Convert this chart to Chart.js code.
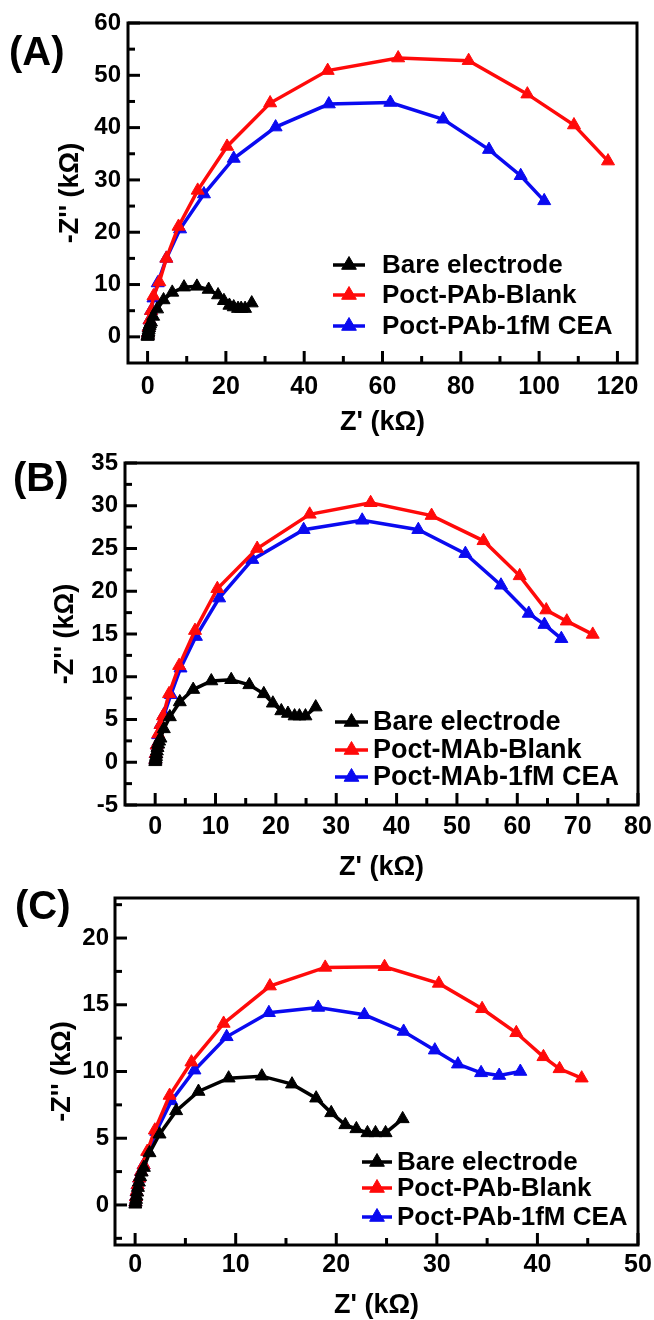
<!DOCTYPE html>
<html>
<head>
<meta charset="utf-8">
<script src="https://cdn.jsdelivr.net/npm/chart.js@4.4.1/dist/chart.umd.min.js"></script>
<style>
html,body{margin:0;padding:0;background:#fff;}
body{width:654px;height:1320px;position:relative;overflow:hidden;font-family:'Liberation Sans',Arial,sans-serif;}
.pane{position:absolute;left:0;width:654px;}
.pane canvas{display:block;}
.tag{position:absolute;font-weight:bold;font-size:40px;line-height:1;color:#000;z-index:5;}
</style>
</head>
<body>
<div class="pane" style="top:0px"><canvas id="cA" width="654" height="440"></canvas></div>
<div class="pane" style="top:440px"><canvas id="cB" width="654" height="450"></canvas></div>
<div class="pane" style="top:880px"><canvas id="cC" width="654" height="445"></canvas></div>
<div class="tag" style="left:9px;top:31px">(A)</div>
<div class="tag" style="left:13px;top:457px">(B)</div>
<div class="tag" style="left:15px;top:885px">(C)</div>
<script>
'use strict';

// Bare electrode spectrum (same electrode in every panel), kΩ
const bareZre=[0.02,0.05,0.09,0.14,0.2,0.28,0.38,0.5,0.65,0.87,1.43,2.43,4.08,6.3,9.3,12.6,15.6,18.0,19.5,20.9,22.0,23.1,23.9,24.9,26.6];
const bareZim=[0.05,0.2,0.4,0.65,0.95,1.3,1.7,2.1,2.45,2.8,3.9,5.3,7.05,8.5,9.5,9.65,9.05,8.0,6.9,6.0,5.7,5.4,5.4,5.4,6.45];

// (A) Poct-PAb
const aBlankZre=[0.03,0.1,0.25,0.5,0.9,1.5,3.0,4.8,7.9,12.8,20.3,31.3,46.0,64.0,82.0,97.0,108.9,117.6];
const aBlankZim=[0.2,0.8,1.8,3.2,5.0,7.8,10.5,15.0,21.1,28.0,36.4,44.7,50.9,53.3,52.8,46.4,40.5,33.6];
const aCeaZre=[0.03,0.1,0.25,0.5,0.9,1.5,2.6,4.8,8.3,14.4,22.0,32.7,46.3,62.0,75.5,87.2,95.3,101.3];
const aCeaZim=[0.2,0.8,1.8,3.2,5.0,7.4,10.3,15.0,20.6,27.3,34.1,40.1,44.5,44.8,41.6,35.8,30.8,26.0];

// (B) Poct-MAb
const bBlankZre=[0.03,0.1,0.25,0.5,0.9,1.3,2.3,3.97,6.6,10.3,16.9,25.6,35.7,45.8,54.4,60.4,64.8,68.2,72.5];
const bBlankZim=[0.3,1.0,2.0,3.3,4.4,5.4,8.0,11.3,15.4,20.3,25.0,29.0,30.35,28.85,25.9,21.8,17.8,16.5,14.95];
const bCeaZre=[0.03,0.1,0.25,0.5,0.9,1.5,2.6,4.2,6.75,10.6,16.1,24.6,34.3,43.6,51.4,57.3,61.9,64.5,67.3];
const bCeaZim=[0.3,1.0,2.0,3.2,4.4,5.6,7.9,11.0,14.7,19.2,23.7,27.2,28.3,27.2,24.4,20.7,17.4,16.1,14.45];

// (C) Poct-PAb, second set
const cBlankZre=[0.03,0.08,0.15,0.25,0.4,0.6,0.85,1.2,1.96,3.43,5.6,8.8,13.4,18.9,24.8,30.2,34.5,37.9,40.6,42.2,44.4];
const cBlankZim=[0.2,0.6,1.0,1.5,2.0,2.5,3.0,4.0,5.6,8.2,10.7,13.6,16.4,17.8,17.85,16.6,14.7,12.9,11.1,10.2,9.5];
const cCeaZre=[0.03,0.08,0.15,0.25,0.4,0.6,0.85,1.3,2.1,3.6,5.9,9.1,13.3,18.2,22.8,26.7,29.8,32.1,34.4,36.2,38.3];
const cCeaZim=[0.2,0.6,1.0,1.5,2.0,2.5,3.0,4.0,5.5,7.8,10.1,12.6,14.4,14.8,14.25,13.0,11.6,10.55,9.9,9.7,10.0];

// axis ticks
const aTicksX=[0,20,40,60,80,100,120], aMinorX=[10,30,50,70,90,110];
const aTicksY=[0,10,20,30,40,50,60],   aMinorY=[5,15,25,35,45,55];
const bTicksX=[0,10,20,30,40,50,60,70,80], bMinorX=[5,15,25,35,45,55,65,75];
const bTicksY=[-5,0,5,10,15,20,25,30,35], bMinorY=[-2.5,2.5,7.5,12.5,17.5,22.5,27.5,32.5];
const cTicksX=[0,10,20,30,40,50], cMinorX=[5,15,25,35,45];
const cTicksY=[0,5,10,15,20],     cMinorY=[-2.5,2.5,7.5,12.5,17.5,22.5];

const FONT="'Liberation Sans', Arial, sans-serif";
const RED='#ff0a0a', BLUE='#0a0af0', BLACK='#000000';

function pts(xs,ys){ return xs.map((x,i)=>({x,y:ys[i]})); }
function series(label,xs,ys,color){
  return {label,data:pts(xs,ys),borderColor:color,backgroundColor:color,borderWidth:3.5,
    pointStyle:'triangle',pointRadius:7.5,pointHoverRadius:7.5,pointBorderWidth:1,showLine:true,tension:0};
}

function tri(ctx,x,y,r){
  ctx.beginPath();
  ctx.moveTo(x,y-r); ctx.lineTo(x+r*0.866,y+r*0.5); ctx.lineTo(x-r*0.866,y+r*0.5);
  ctx.closePath(); ctx.fill(); ctx.stroke();
}

// closed frame with inward major/minor ticks
const frameTicks={
  id:'frameTicks',
  afterDatasetsDraw(chart,args,o){
    const {ctx,chartArea:a,scales:{x,y}}=chart;
    ctx.save();
    ctx.strokeStyle='#000'; ctx.lineWidth=3;
    const seg=(x1,y1,x2,y2)=>{ctx.beginPath();ctx.moveTo(x1,y1);ctx.lineTo(x2,y2);ctx.stroke();};
    o.majorX.forEach(v=>{const p=x.getPixelForValue(v); seg(p,a.bottom,p,a.bottom-12);});
    o.minorX.forEach(v=>{const p=x.getPixelForValue(v); seg(p,a.bottom,p,a.bottom-7);});
    o.majorY.forEach(v=>{const p=y.getPixelForValue(v); seg(a.left,p,a.left+12,p);});
    o.minorY.forEach(v=>{const p=y.getPixelForValue(v); seg(a.left,p,a.left+7,p);});
    ctx.strokeRect(a.left,a.top,a.right-a.left,a.bottom-a.top);
    ctx.restore();
  }
};

// legend drawn inside the plot: line + triangle, then label
const insetLegend={
  id:'insetLegend',
  afterDraw(chart,args,o){
    const ctx=chart.ctx;
    ctx.save();
    ctx.font='bold '+o.size+'px '+FONT;
    ctx.textBaseline='middle'; ctx.textAlign='left';
    chart.data.datasets.forEach((ds,i)=>{
      const y=o.ys[i];
      ctx.strokeStyle=ds.borderColor; ctx.fillStyle=ds.borderColor; ctx.lineWidth=3.5;
      ctx.beginPath(); ctx.moveTo(o.x0,y); ctx.lineTo(o.x0+o.len,y); ctx.stroke();
      ctx.lineWidth=1; tri(ctx,o.x0+o.len/2,y,8.5);
      ctx.fillStyle='#000'; ctx.fillText(ds.label,o.textX,y+1);
    });
    ctx.restore();
  }
};

function panel(id,p){
  const canvas=document.getElementById(id);
  const H=canvas.height;
  const yLH=p.yTitleSize*1.2/2, xLH=p.xTitleSize*1.2/2;
  const padL=p.yTitleCx-yLH, yW=p.area.l-padL;
  const xBottom=p.xTitleCy+xLH, xH=xBottom-p.area.b;
  const xTickPad=p.xTickCy-p.area.b-p.xTickSize*1.2/2;
  return new Chart(canvas.getContext('2d'),{
    type:'scatter',
    data:{datasets:[
      series('Bare electrode',bareZre,bareZim,BLACK),
      series(p.names[0],p.blank[0],p.blank[1],RED),
      series(p.names[1],p.cea[0],p.cea[1],BLUE)
    ]},
    options:{
      responsive:false,animation:false,devicePixelRatio:1,
      layout:{padding:{left:padL,right:654-p.area.r,top:p.area.t,bottom:H-xBottom}},
      plugins:{
        legend:{display:false},tooltip:{enabled:false},
        frameTicks:{majorX:p.ticksX,minorX:p.minorX,majorY:p.ticksY,minorY:p.minorY},
        insetLegend:p.legend
      },
      scales:{
        x:{type:'linear',min:p.xr[0],max:p.xr[1],
          afterBuildTicks:s=>{s.ticks=p.ticksX.map(v=>({value:v}));},
          afterFit:s=>{s.height=xH;s.paddingLeft=0;s.paddingRight=0;},
          grid:{display:false,drawTicks:false},border:{display:false},
          ticks:{color:'#000',padding:xTickPad,maxRotation:0,autoSkip:false,font:{family:FONT,size:p.xTickSize,weight:'bold'}},
          title:{display:true,text:"Z' (kΩ)",color:'#000',padding:0,font:{family:FONT,size:p.xTitleSize,weight:'bold'}}},
        y:{type:'linear',min:p.yr[0],max:p.yr[1],
          afterBuildTicks:s=>{s.ticks=p.ticksY.map(v=>({value:v}));},
          afterFit:s=>{s.width=yW;s.paddingTop=0;s.paddingBottom=0;},
          grid:{display:false,drawTicks:false},border:{display:false},
          ticks:{color:'#000',padding:p.yTickGap,autoSkip:false,font:{family:FONT,size:p.yTickSize,weight:'bold'}},
          title:{display:true,text:"-Z'' (kΩ)",color:'#000',padding:0,font:{family:FONT,size:p.yTitleSize,weight:'bold'}}}
      }
    },
    plugins:[frameTicks,insetLegend]
  });
}

panel('cA',{
  names:['Poct-PAb-Blank','Poct-PAb-1fM CEA'],
  blank:[aBlankZre,aBlankZim],cea:[aCeaZre,aCeaZim],
  xr:[-5,125],yr:[-5,60],ticksX:aTicksX,minorX:aMinorX,ticksY:aTicksY,minorY:aMinorY,
  area:{l:128,r:637,t:23,b:363},
  yTitleCx:71,xTitleCy:423,xTickCy:387,yTickGap:7,
  xTickSize:25,yTickSize:24,xTitleSize:27,yTitleSize:27,
  legend:{x0:333,len:32,textX:382,ys:[265,295,326],size:26}
});

panel('cB',{
  names:['Poct-MAb-Blank','Poct-MAb-1fM CEA'],
  blank:[bBlankZre,bBlankZim],cea:[bCeaZre,bCeaZim],
  xr:[-5,80],yr:[-5,35],ticksX:bTicksX,minorX:bMinorX,ticksY:bTicksY,minorY:bMinorY,
  area:{l:125,r:638,t:23,b:365},
  yTitleCx:66,xTitleCy:428,xTickCy:387,yTickGap:7,
  xTickSize:25,yTickSize:24,xTitleSize:27,yTitleSize:27,
  legend:{x0:335,len:33,textX:373,ys:[282,310,337],size:27}
});

panel('cC',{
  names:['Poct-PAb-Blank','Poct-PAb-1fM CEA'],
  blank:[cBlankZre,cBlankZim],cea:[cCeaZre,cCeaZim],
  xr:[-2,50],yr:[-3,23],ticksX:cTicksX,minorX:cMinorX,ticksY:cTicksY,minorY:cMinorY,
  area:{l:115,r:638,t:18,b:365},
  yTitleCx:63,xTitleCy:426,xTickCy:385,yTickGap:6,
  xTickSize:25,yTickSize:24,xTitleSize:27,yTitleSize:27,
  legend:{x0:362,len:30,textX:397,ys:[282,308,337],size:26}
});
</script>
</body>
</html>
